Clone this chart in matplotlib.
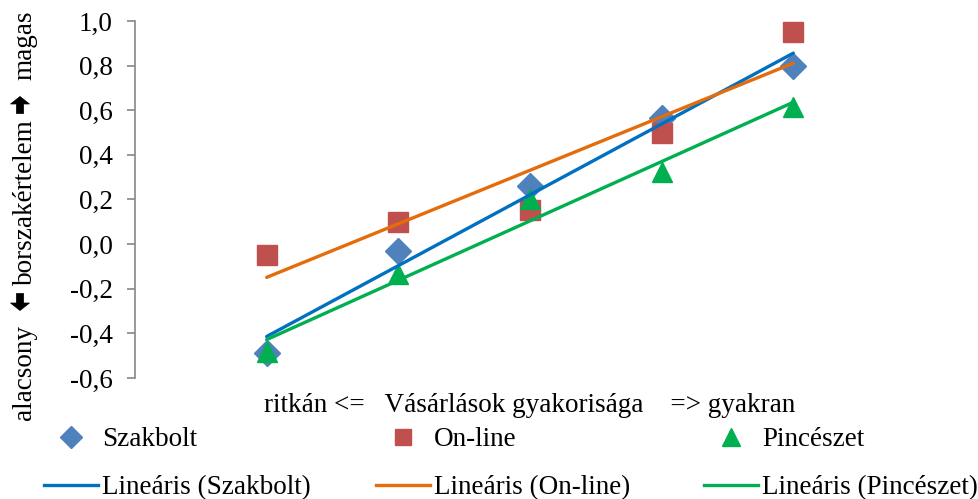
import numpy as np
import matplotlib
matplotlib.use("Agg")
import matplotlib.pyplot as plt
from matplotlib.lines import Line2D
from matplotlib.patches import Polygon
from matplotlib.ticker import FuncFormatter

plt.rcParams['font.family'] = ['Liberation Serif', 'DejaVu Sans']

# Purchase frequency categories (1 = rarely ... 5 = often)
freq = [1, 2, 3, 4, 5]
szakbolt = [-0.49, -0.03, 0.26, 0.565, 0.80]
online = [-0.05, 0.10, 0.155, 0.50, 0.95]
pinceszet = [-0.485, -0.135, 0.20, 0.325, 0.615]

series_names = ["Szakbolt", "On-line", "Pincészet"]
y_ticks = [-0.6, -0.4, -0.2, 0.0, 0.2, 0.4, 0.6, 0.8, 1.0]
y_title_words = ["alacsony", "borszakértelem", "magas"]

marker_colors = ["#4F81BD", "#C0504D", "#00B050"]
line_colors = ["#0070C0", "#E46C0A", "#00B050"]
markers = ["D", "s", "^"]
marker_sizes = [13, 14, 15]

W, H = 979, 499
fig = plt.figure(figsize=(W / 100, H / 100), dpi=100)
ax = fig.add_axes([135 / W, 1 - 378 / H, (925 - 135) / W, (378 - 21) / H])

fs = 19.5
data = [szakbolt, online, pinceszet]
for i, ys in enumerate(data):
    ax.plot(freq, ys, linestyle="none", marker=markers[i], ms=marker_sizes[i],
            color=marker_colors[i], mec=marker_colors[i], mew=1.0, zorder=3 + i)

# Linear trendlines (least squares fit)
xs = np.array(freq, dtype=float)
for i, ys in enumerate(data):
    k, b = np.polyfit(xs, np.array(ys), 1)
    ax.plot([xs[0], xs[-1]], [k * xs[0] + b, k * xs[-1] + b], color=line_colors[i],
            lw=2.4, solid_capstyle="round", zorder=7)

ax.set_xlim(0, 6)
ax.set_ylim(-0.6, 1.0)
ax.set_yticks(y_ticks)
ax.yaxis.set_major_formatter(FuncFormatter(lambda v, p: f"{v:.1f}".replace(".", ",").replace("-0,0", "0,0")))
ax.set_xticks([])
for s in ["top", "right", "bottom"]:
    ax.spines[s].set_visible(False)
ax.spines["left"].set_color("#868686")
ax.spines["left"].set_linewidth(1.2)
ax.tick_params(axis="y", direction="out", length=6, width=1.2, color="#868686",
               labelsize=fs, pad=10)

ax.set_xlabel("ritkán <=   Vásárlások gyakorisága    => gyakran", fontsize=fs, labelpad=11)

# Vertical axis title: words with heavy arrows between them (pixel positions from top)
word_centers = [372, 202, 45]
for word, yc in zip(y_title_words, word_centers):
    fig.text(25 / W, 1 - yc / H, word, rotation=90, ha="center", va="center", fontsize=fs)


def heavy_arrow(cx, cy, direction):
    """Block arrow in figure pixels (origin top-left), direction +1 = up, -1 = down."""
    L, head, hw, sw = 8.5, 7.5, 9.5, 3.6
    pts = [(0, L), (hw, L - head), (sw, L - head), (sw, -L),
           (-sw, -L), (-sw, L - head), (-hw, L - head)]
    verts = [((cx + px) / 100, (H - cy + direction * py) / 100) for px, py in pts]
    fig.patches.append(Polygon(verts, closed=True, facecolor="black", edgecolor="black",
                               lw=0.5, transform=fig.dpi_scale_trans))


heavy_arrow(20, 302, -1)
heavy_arrow(20, 105, +1)

# Legend: one column per series, marker row above trendline row
col_x = [44, 376, 704]
for i in range(3):
    h_marker = Line2D([], [], linestyle="none", marker=markers[i], ms=marker_sizes[i] - 2,
                      color=marker_colors[i], mec=marker_colors[i])
    h_line = Line2D([], [], color=line_colors[i], lw=2.4)
    fig.legend([h_marker, h_line], [series_names[i], f"Lineáris ({series_names[i]})"],
               loc="upper left", bbox_to_anchor=(col_x[i] / W, 1 - 427 / H),
               frameon=False, fontsize=fs, handlelength=2.0, handletextpad=0.15,
               labelspacing=0.85, borderpad=0, borderaxespad=0)

fig.savefig("out.png", dpi=100)
